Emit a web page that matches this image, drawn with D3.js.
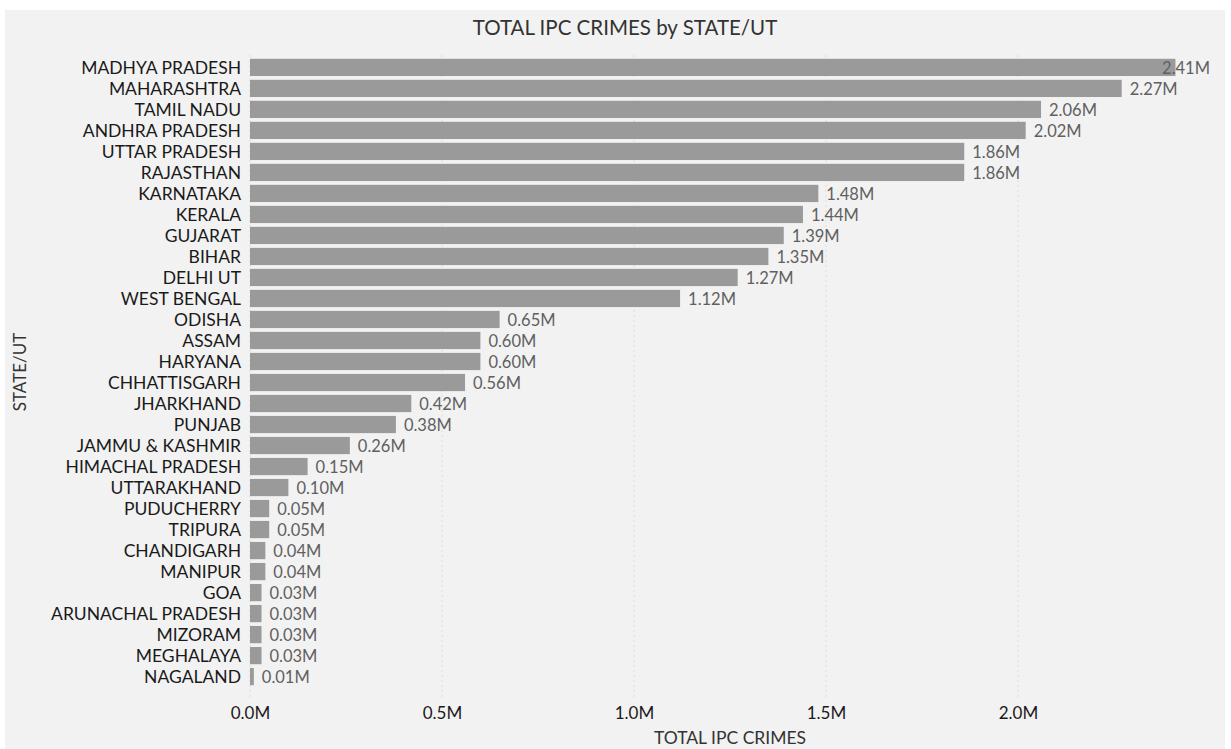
<!DOCTYPE html>
<html>
<head>
<meta charset="utf-8">
<script src="https://cdn.jsdelivr.net/npm/d3@7"></script>
<style>
  body { margin: 0; background: #ffffff; }
  text { font-family: Lato, "Open Sans", sans-serif; }
</style>
</head>
<body>
<div id="chart"></div>
<script>
// datos del grafico
const states = ['MADHYA PRADESH', 'MAHARASHTRA', 'TAMIL NADU', 'ANDHRA PRADESH', 'UTTAR PRADESH',
  'RAJASTHAN', 'KARNATAKA', 'KERALA', 'GUJARAT', 'BIHAR', 'DELHI UT', 'WEST BENGAL', 'ODISHA',
  'ASSAM', 'HARYANA', 'CHHATTISGARH', 'JHARKHAND', 'PUNJAB', 'JAMMU & KASHMIR', 'HIMACHAL PRADESH',
  'UTTARAKHAND', 'PUDUCHERRY', 'TRIPURA', 'CHANDIGARH', 'MANIPUR', 'GOA', 'ARUNACHAL PRADESH',
  'MIZORAM', 'MEGHALAYA', 'NAGALAND'];
// valores en millones
const crimes = [2.41, 2.27, 2.06, 2.02, 1.86, 1.86, 1.48, 1.44, 1.39, 1.35, 1.27, 1.12, 0.65,
  0.60, 0.60, 0.56, 0.42, 0.38, 0.26, 0.15, 0.10, 0.05, 0.05, 0.04, 0.04, 0.03, 0.03,
  0.03, 0.03, 0.01];
const xTicks = [0, 0.5, 1.0, 1.5, 2.0];

const data = states.map((s, i) => ({ name: s, value: crimes[i] }));

const width = 1231;
const height = 749;

const svg = d3.select('#chart')
  .append('svg')
  .attr('width', width)
  .attr('height', height);

// fondo gris
svg.append('rect')
  .attr('x', 5)
  .attr('y', 10)
  .attr('width', 1220)
  .attr('height', 739)
  .attr('fill', '#f2f2f2');

const plotLeft = 250;
const plotRight = 1210;
const plotTop = 55;
const plotBottom = 689;

const x = d3.scaleLinear()
  .domain([0, 2.5])
  .range([plotLeft, plotRight]);

const y = d3.scaleBand()
  .domain(states)
  .range([plotTop, plotBottom])
  .padding(0.18);

// lineas de rejilla
svg.append('g')
  .selectAll('line')
  .data(xTicks)
  .enter()
  .append('line')
  .attr('x1', d => x(d))
  .attr('x2', d => x(d))
  .attr('y1', plotTop)
  .attr('y2', plotBottom + 8)
  .attr('stroke', '#dcdcdc')
  .attr('stroke-dasharray', '2,3');

// barras
svg.selectAll('.bar')
  .data(data)
  .enter()
  .append('rect')
  .attr('class', 'bar')
  .attr('x', x(0))
  .attr('y', d => y(d.name))
  .attr('width', d => x(d.value) - x(0))
  .attr('height', y.bandwidth())
  .attr('fill', '#9a9a9a');

// etiquetas de valores
const labels = svg.selectAll('.label')
  .data(data)
  .enter()
  .append('text')
  .attr('class', 'label')
  .attr('y', d => y(d.name) + y.bandwidth() / 2)
  .attr('dy', '0.4em')
  .attr('font-size', 16.5)
  .attr('fill', '#606060')
  .text(d => d3.format('.2f')(d.value) + 'M');

labels.attr('x', function(d) {
  const w = this.getComputedTextLength();
  return Math.min(x(d.value) + 8, plotRight - w);
});

// eje y (nombres)
const yAxis = d3.axisLeft(y).tickSize(0).tickPadding(9);
const gy = svg.append('g')
  .attr('transform', `translate(${plotLeft},0)`)
  .call(yAxis);
gy.select('.domain').remove();
gy.selectAll('text')
  .attr('font-size', 17.5)
  .attr('dy', '0.36em')
  .attr('fill', '#1a1a1a')
  .style('font-family', 'Lato, sans-serif');

// eje x
const xAxis = d3.axisBottom(x)
  .tickValues(xTicks)
  .tickSize(0)
  .tickPadding(0)
  .tickFormat(d => d3.format('.1f')(d) + 'M');
const gx = svg.append('g')
  .attr('transform', `translate(0,707)`)
  .call(xAxis);
gx.select('.domain').remove();
gx.selectAll('text')
  .attr('font-size', 17)
  .attr('fill', '#1a1a1a')
  .style('font-family', 'Lato, sans-serif');

// titulos
svg.append('text')
  .attr('x', 625)
  .attr('y', 35)
  .attr('text-anchor', 'middle')
  .attr('font-size', 20.5)
  .attr('fill', '#333')
  .text('TOTAL IPC CRIMES by STATE/UT');

svg.append('text')
  .attr('x', (plotLeft + plotRight) / 2)
  .attr('y', 744)
  .attr('text-anchor', 'middle')
  .attr('font-size', 17.5)
  .attr('fill', '#333')
  .text('TOTAL IPC CRIMES');

svg.append('text')
  .attr('transform', 'translate(26,372) rotate(-90)')
  .attr('text-anchor', 'middle')
  .attr('font-size', 17)
  .attr('fill', '#333')
  .text('STATE/UT');
</script>
</body>
</html>
